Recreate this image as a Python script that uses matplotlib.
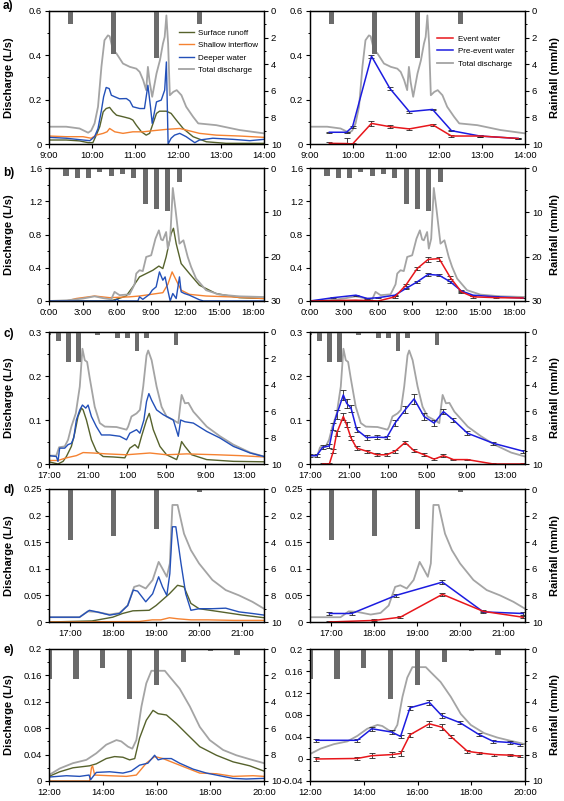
import matplotlib
matplotlib.use("Agg")
import matplotlib.pyplot as plt
from matplotlib.ticker import MultipleLocator, FuncFormatter

plt.rcParams['font.family'] = ['Liberation Sans', 'DejaVu Sans']
plt.rcParams['axes.linewidth'] = 0.9

# colours
COL_SURF = '#56622c'
COL_SHAL = '#f58231'
COL_DEEP = '#2350b8'
COL_TOT = '#a4a4a4'
COL_EV = '#e8161b'
COL_PRE = '#1c1ce0'
COL_BAR = '#6b6b6b'

# ---------------- a) ----------------
A_RAIN_T = [9.5, 10.5, 11.5, 12.5]
A_RAIN = [1.0, 3.2, 3.5, 1.0]
A_TOT_T = [9.00, 9.40, 9.71, 9.91, 9.98, 10.06, 10.14, 10.22, 10.29, 10.37, 10.41, 10.49, 10.57,
           10.72, 10.88, 11.03, 11.11, 11.19, 11.26, 11.30, 11.34, 11.40, 11.50, 11.58, 11.65,
           11.69, 11.73, 11.77, 11.81, 11.89, 11.97, 12.08, 12.19, 12.35, 12.47, 12.89, 13.43, 14.00]
A_TOT = [.078, .078, .070, .051, .060, .093, .168, .350, .468, .490, .486, .423, .408,
         .363, .348, .340, .325, .288, .243, .348, .280, .213, .318, .378, .453,
         .483, .580, .453, .220, .235, .243, .220, .168, .123, .093, .085, .063, .048]
A_SURF_T = [9.00, 9.40, 9.71, 9.91, 10.02, 10.10, 10.18, 10.26, 10.33, 10.41, 10.49, 10.57, 10.72,
            10.88, 10.95, 11.03, 11.15, 11.26, 11.34, 11.42, 11.50, 11.57, 11.73, 11.84, 11.96,
            12.12, 12.35, 12.66, 13.12, 14.00]
A_SURF = [.018, .018, .014, .006, .006, .040, .078, .145, .160, .165, .145, .130, .123,
          .115, .108, .085, .055, .040, .048, .093, .138, .148, .148, .138, .108,
          .070, .033, .010, .003, .003]
A_SHAL_T = [9.00, 9.40, 9.79, 9.98, 10.10, 10.26, 10.35, 10.41, 10.53, 10.72, 10.95, 11.19, 11.42,
            11.73, 12.04, 12.19, 12.50, 12.89, 13.43, 14.00]
A_SHAL = [.036, .033, .033, .026, .040, .048, .055, .070, .055, .048, .055, .055, .060,
          .066, .070, .063, .048, .040, .036, .030]
A_DEEP_T = [9.00, 9.40, 9.79, 9.95, 10.06, 10.14, 10.22, 10.27, 10.33, 10.40, 10.45, 10.53, 10.64,
            10.80, 10.88, 10.95, 11.11, 11.22, 11.30, 11.36, 11.40, 11.50, 11.61, 11.69, 11.73,
            11.77, 11.84, 11.92, 12.04, 12.19, 12.39, 12.50, 12.81, 13.28, 13.67, 14.00]
A_DEEP = [.030, .026, .018, .015, .033, .070, .153, .213, .255, .250, .220, .213, .204,
          .205, .194, .168, .160, .160, .265, .168, .093, .190, .198, .243, .370,
          .000, .026, .040, .048, .033, .006, .018, .026, .021, .015, .021]
A_S_T = [9.45, 9.85, 9.99, 10.43, 10.86, 11.31, 11.85, 12.29, 12.95, 13.84]
A_EV = [.003, .002, .000, .093, .078, .068, .087, .036, .036, .025]
A_EV_ERR = [.004, .025, .003, .010, .007, .005, .005, .003, .003, .003]
A_PRE = [.053, .053, .078, .396, .250, .146, .156, .060, .036, .025]
A_PRE_ERR = [.003, .003, .004, .006, .005, .004, .004, .003, .003, .003]

# ---------------- b) ----------------
B_RAIN_T = [1.5, 2.5, 3.5, 4.5, 5.5, 6.5, 7.5, 8.5, 9.5, 10.5, 11.5, 12.5]
B_RAIN = [1.9, 2.3, 2.3, 0.9, 1.7, 1.3, 2.3, 8.2, 9.2, 9.7, 3.1, 0.2]
B_TOT_T = [0.0, 1.53, 2.41, 3.00, 4.03, 4.76, 5.50, 5.79, 6.24, 7.12, 7.56, 7.71, 8.00, 8.29, 8.59,
           9.03, 9.41, 9.71, 9.91, 10.06, 10.35, 10.50, 10.71, 10.94, 11.18, 11.53, 11.88, 12.26,
           12.56, 13.00, 13.88, 15.06, 16.82, 18.97]
B_TOT = [.000, .008, .020, .030, .056, .035, .020, .110, .070, .080, .200, .330, .370, .360, .530,
         .550, .750, .850, .740, .730, .830, .630, .750, 1.360, 1.100, .690, .730, .530,
         .410, .270, .130, .077, .056, .048]
B_SURF_T = [0.0, 5.35, 5.94, 6.82, 7.41, 8.00, 8.59, 9.18, 9.71, 10.06, 10.35, 10.79, 11.00, 11.24,
            11.68, 12.41, 13.29, 14.76, 16.82, 18.97]
B_SURF = [.000, .000, .020, .060, .170, .290, .330, .370, .420, .390, .530, .810, .875, .690,
          .450, .330, .190, .090, .040, .030]
B_SHAL_T = [0.0, 1.53, 2.41, 4.03, 5.35, 7.12, 8.00, 9.03, 10.06, 10.50, 10.88, 11.24, 11.68,
            12.41, 13.88, 15.94, 18.97]
B_SHAL = [.000, .000, .030, .060, .040, .050, .060, .080, .100, .200, .350, .250, .130,
          .080, .060, .050, .030]
B_DEEP_T = [0.0, 5.79, 6.00, 6.24, 7.85, 8.00, 8.29, 8.59, 8.88, 9.12, 9.47, 9.76, 10.06, 10.26,
            10.50, 10.71, 10.94, 11.24, 11.53, 11.68, 11.97, 12.41, 13.29, 13.65, 18.97]
B_DEEP = [.000, .000, .020, .000, .000, .050, .020, .050, .080, .130, .170, .350, .250, .290,
          .130, .000, .090, .030, .290, .110, .090, .070, .015, .000, .000]
B_S_T = [0.00, 2.06, 4.06, 5.06, 6.03, 7.50, 8.47, 9.47, 10.44, 11.41, 12.41, 13.38, 14.41, 16.47, 18.82]
B_EV = [.000, .005, .010, .005, .000, .050, .190, .390, .500, .510, .280, .110, .050, .040, .036]
B_EV_ERR = [.004, .004, .005, .004, .004, .010, .015, .020, .025, .025, .020, .012, .008, .006, .005]
B_PRE = [.000, .040, .070, .030, .040, .070, .150, .230, .320, .310, .230, .120, .070, .050, .036]
B_PRE_ERR = [.004, .005, .006, .005, .004, .006, .010, .012, .015, .015, .012, .008, .006, .005, .004]

# ---------------- c) ----------------
C_RAIN_T = [17, 18, 19, 20, 22, 24, 25, 26, 27, 30]
C_RAIN = [0.25, 0.7, 2.26, 2.26, 0.2, 0.45, 0.45, 1.46, 0.45, 0.95]
C_TOT_T = [17.0, 17.75, 18.03, 18.61, 18.95, 19.29, 19.74, 20.15, 20.42, 20.66, 20.90, 21.17,
           21.68, 22.20, 22.71, 23.91, 24.93, 25.10, 25.44, 25.96, 26.30, 26.64, 26.98, 27.15,
           27.50, 28.01, 28.52, 29.03, 29.72, 30.23, 30.40, 30.57, 30.91, 31.26, 31.77, 33.14,
           34.50, 35.87, 37.58, 39.0]
C_TOT = [.019, .019, .038, .040, .055, .085, .115, .176, .262, .236, .232, .195,
         .130, .093, .085, .084, .078, .085, .108, .115, .123, .176, .247, .258,
         .236, .176, .130, .108, .100, .093, .127, .157, .138, .139, .119, .085,
         .063, .044, .026, .017]
C_DEEP_T = [17.0, 17.75, 17.92, 18.09, 18.61, 18.95, 19.29, 19.53, 19.80, 20.15, 20.42, 20.76,
            21.0, 21.34, 21.85, 22.37, 23.22, 24.25, 24.93, 25.27, 25.96, 26.30, 26.71, 26.98,
            27.22, 27.50, 28.01, 28.69, 29.72, 30.23, 30.47, 30.91, 31.77, 33.14, 34.50, 35.87,
            37.58, 39.0]
C_DEEP = [.019, .017, .006, .036, .036, .044, .047, .059, .100, .123, .134, .127,
          .134, .108, .085, .066, .066, .063, .055, .070, .078, .070, .100, .142,
          .160, .145, .123, .112, .100, .063, .100, .096, .093, .074, .059, .040,
          .025, .017]
C_SURF_T = [17.0, 17.92, 18.44, 18.78, 19.29, 19.63, 19.97, 20.32, 20.49, 20.83, 21.34, 21.85,
            22.54, 23.56, 24.76, 25.27, 25.79, 26.13, 26.47, 26.98, 27.26, 27.67, 28.35, 29.03,
            30.06, 30.30, 30.57, 30.91, 31.60, 33.14, 35.87, 39.0]
C_SURF = [.005, .000, .006, .017, .040, .070, .108, .127, .123, .100, .055, .029,
          .017, .016, .014, .036, .044, .036, .063, .100, .115, .078, .040, .021,
          .010, .025, .051, .040, .021, .010, .006, .005]
C_SHAL_T = [17.0, 17.92, 18.78, 19.80, 20.49, 21.51, 22.88, 24.93, 27.32, 29.03, 31.08, 34.16, 36.55, 39.0]
C_SHAL = [.008, .008, .014, .019, .026, .025, .023, .021, .025, .021, .023, .021, .019, .016]
C_PRE_T = [17.0, 17.68, 18.30, 18.98, 19.39, 19.73, 20.41, 20.75, 21.20, 21.78, 22.80, 23.83,
           24.85, 25.70, 26.73, 27.65, 28.67, 29.70, 30.65, 31.68, 33.11, 35.77, 38.84]
C_PRE = [.019, .019, .038, .041, .085, .112, .157, .138, .127, .078, .060, .061,
         .060, .093, .123, .148, .108, .093, .119, .100, .070, .047, .029]
C_PRE_ERR = [.004, .004, .005, .005, .008, .010, .012, .010, .008, .006, .005, .004,
             .004, .006, .008, .012, .008, .006, .006, .005, .004, .003, .003]
C_EV_T = [18.30, 18.98, 19.39, 19.73, 20.41, 20.75, 21.20, 21.78, 22.80, 23.83, 24.85, 25.70,
          26.73, 27.65, 28.67, 29.70, 30.65, 31.68, 33.11, 35.77, 38.84]
C_EV = [.000, .000, .029, .070, .108, .089, .059, .036, .029, .021, .021, .029,
        .049, .030, .021, .011, .019, .010, .010, .000, .000]
C_EV_ERR = [.003, .002, .004, .006, .008, .006, .005, .004, .003, .003, .003, .003,
            .004, .003, .003, .002, .003, .002, .002, .002, .002]

# ---------------- d) ----------------
D_RAIN_T = [17, 18, 19, 20]
D_RAIN = [3.8, 3.5, 3.0, 0.2]
D_TOT_T = [16.5, 17.21, 17.40, 17.60, 17.91, 18.14, 18.33, 18.48, 18.60, 18.75, 18.91, 19.05,
           19.14, 19.24, 19.31, 19.37, 19.49, 19.64, 19.80, 19.99, 20.30, 20.61, 20.92, 21.23, 21.5]
D_TOT = [.009, .009, .020, .019, .014, .017, .031, .066, .069, .063, .079, .113,
         .100, .085, .110, .220, .220, .166, .135, .110, .079, .060, .050, .038, .025]
D_DEEP_T = [16.5, 17.21, 17.44, 17.67, 17.91, 18.14, 18.33, 18.46, 18.56, 18.75, 18.91, 19.05,
            19.14, 19.24, 19.31, 19.37, 19.45, 19.57, 19.68, 19.80, 19.99, 20.30, 20.61, 20.92,
            21.23, 21.5]
D_DEEP = [.009, .009, .022, .018, .013, .016, .031, .060, .058, .038, .053, .085,
          .066, .050, .091, .179, .179, .110, .053, .022, .025, .025, .026, .019,
          .016, .013]
D_SURF_T = [16.5, 17.5, 17.98, 18.21, 18.45, 18.83, 18.99, 19.30, 19.49, 19.64, 19.80, 19.99, 20.50, 21.0, 21.5]
D_SURF = [.000, .002, .009, .016, .021, .022, .031, .053, .069, .066, .035, .025, .019, .013, .008]
D_SHAL_T = [16.5, 18.6, 18.9, 19.1, 19.3, 19.5, 19.8, 20.2, 20.8, 21.5]
D_SHAL = [.000, .001, .004, .004, .008, .006, .004, .004, .003, .003]
D_PRE_T = [16.95, 17.47, 18.50, 19.58, 20.53, 21.45]
D_PRE = [.016, .016, .050, .075, .019, .016]
D_PRE_ERR = [.002, .002, .003, .004, .002, .002]
D_EV_T = [16.95, 18.00, 18.60, 19.58, 20.53, 21.45]
D_EV = [.000, .003, .009, .052, .020, .009]
D_EV_ERR = [.002, .002, .002, .003, .002, .002]

# ---------------- e) ----------------
E_RAIN_T = [12, 13, 14, 15, 16, 17, 18, 19]
E_RAIN = [2.26, 2.26, 1.46, 3.77, 2.74, 1.0, 0.18, 0.45]
E_TOT_T = [12.0, 12.40, 12.89, 13.39, 13.76, 14.13, 14.51, 14.69, 14.94, 15.10, 15.25, 15.44,
           15.62, 15.81, 16.12, 16.31, 16.49, 16.86, 17.24, 17.61, 17.98, 18.48, 18.97, 19.47, 20.0]
E_TOT = [.009, .019, .027, .032, .042, .055, .062, .060, .052, .049, .062, .113,
         .148, .167, .167, .167, .158, .140, .113, .082, .062, .047, .039, .033, .027]
E_SURF_T = [12.0, 12.40, 12.89, 13.51, 13.76, 14.13, 14.44, 14.75, 15.0, 15.19, 15.37, 15.62,
            15.87, 16.06, 16.37, 16.74, 17.11, 17.61, 18.23, 18.85, 19.47, 20.0]
E_SURF = [.007, .014, .020, .023, .026, .034, .037, .036, .032, .034, .065, .092,
          .107, .102, .100, .087, .072, .052, .039, .029, .023, .015]
E_DEEP_T = [12.0, 12.65, 13.14, 13.49, 13.55, 13.70, 13.76, 14.26, 14.75, 15.06, 15.37, 15.68,
            15.93, 16.06, 16.24, 16.55, 16.86, 17.36, 17.86, 18.35, 18.85, 19.34, 20.0]
E_DEEP = [.006, .008, .007, .009, .002, .010, .013, .014, .012, .015, .024, .027,
          .039, .032, .034, .034, .027, .018, .012, .008, .004, .003, .004]
E_SHAL_T = [12.0, 13.51, 13.58, 13.62, 13.70, 14.26, 14.88, 15.25, 15.62, 15.93, 16.24, 16.86,
            17.61, 18.23, 18.85, 19.59, 20.0]
E_SHAL = [.000, .000, .020, .023, .009, .008, .007, .009, .027, .037, .034, .024,
          .012, .011, .007, .008, .007]
E_PRE_T = [12.22, 13.76, 14.30, 15.04, 15.37, 15.72, 16.44, 16.90, 17.58, 18.27, 18.82, 19.44, 19.82]
E_PRE = [.034, .034, .055, .049, .041, .093, .103, .079, .066, .045, .032, .030, .026]
E_PRE_ERR = [.003, .003, .004, .004, .003, .004, .005, .004, .003, .003, .002, .002, .002]
E_EV_T = [12.22, 13.76, 14.30, 15.04, 15.37, 15.72, 16.44, 16.90, 17.24, 17.86, 18.30, 18.86, 19.44, 19.82]
E_EV = [.000, .001, .006, .008, .010, .044, .064, .058, .041, .014, .011, .008, .007, .005]
E_EV_ERR = [.003, .003, .005, .005, .004, .004, .006, .005, .003, .003, .002, .002, .002, .002]


W, H = 564.0, 801.0
fig = plt.figure(figsize=(W / 100, H / 100), dpi=100)

ROWS = [(11, 144), (168, 301), (332, 464), (489, 622), (649, 781)]
LEFT_X, RIGHT_X, AX_W = 49, 310, 215


def hhmm(h):
    return '%d:00' % (int(round(h)) % 24)


def num(v, pos):
    return '%g' % (round(v, 6) + 0.0)


def make_ax(x0, row):
    top, bot = ROWS[row]
    return fig.add_axes([x0 / W, 1 - bot / H, AX_W / W, (bot - top) / H])


def setup(ax, xlim, xticks, ylim, ystep, rain_t, rain, bar_w, rmax, rstep, right):
    ax.set_xlim(xlim)
    ax.set_ylim(ylim)
    ax.set_xticks(xticks)
    ax.set_xticklabels([hhmm(h) for h in xticks])
    ax.yaxis.set_major_locator(MultipleLocator(ystep))
    ax.yaxis.set_minor_locator(MultipleLocator(ystep / 2))
    ax.yaxis.set_major_formatter(FuncFormatter(num))
    ax.tick_params(which='major', length=3, width=0.8, labelsize=6.8, pad=2)
    ax.tick_params(which='minor', length=1.6, width=0.7)
    ax2 = ax.twinx()
    ax2.bar(rain_t, rain, width=bar_w, color=COL_BAR, linewidth=0)
    ax2.set_ylim(rmax, 0)
    ax2.yaxis.set_major_locator(MultipleLocator(rstep))
    ax2.yaxis.set_minor_locator(MultipleLocator(rstep / 2))
    ax2.yaxis.set_major_formatter(FuncFormatter(num))
    ax2.tick_params(which='major', length=3, width=0.8, labelsize=6.8, pad=2)
    ax2.tick_params(which='minor', length=1.6, width=0.7)
    if right:
        ax2.set_ylabel('Rainfall (mm/h)', fontsize=8, fontweight='bold', rotation=90)
        ax2.yaxis.set_label_coords(1.115, 0.5)
    else:
        ax.set_ylabel('Discharge (L/s)', fontsize=8, fontweight='bold')
        ax.yaxis.set_label_coords(-0.165, 0.5)
    return ax2


def left_lines(ax, surf, shal, deep, tot):
    h1, = ax.plot(surf[0], surf[1], color=COL_SURF, lw=1.0)
    h2, = ax.plot(shal[0], shal[1], color=COL_SHAL, lw=1.0)
    h4, = ax.plot(tot[0], tot[1], color=COL_TOT, lw=1.3)
    h3, = ax.plot(deep[0], deep[1], color=COL_DEEP, lw=1.0)
    return [h1, h2, h3, h4], ['Surface runoff', 'Shallow interflow', 'Deeper water', 'Total discharge']


def right_lines(ax, ev, pre, tot):
    h3, = ax.plot(tot[0], tot[1], color=COL_TOT, lw=1.3)
    eb_style = dict(ecolor='#222222', elinewidth=0.6, capsize=2.3, capthick=0.6, lw=1.1)
    h2 = ax.errorbar(pre[0], pre[1], yerr=pre[2], color=COL_PRE, **eb_style)
    h1 = ax.errorbar(ev[0], ev[1], yerr=ev[2], color=COL_EV, **eb_style)
    return [h1[0], h2[0], h3], ['Event water', 'Pre-event water', 'Total discharge']


panels = [
    dict(xlim=(9, 14), xt=[9, 10, 11, 12, 13, 14], ylim=(0, 0.6), ys=0.2,
         rain=(A_RAIN_T, A_RAIN), bw=0.13, rmax=10, rs=2,
         surf=(A_SURF_T, A_SURF), shal=(A_SHAL_T, A_SHAL), deep=(A_DEEP_T, A_DEEP),
         tot=(A_TOT_T, A_TOT),
         ev=(A_S_T, A_EV, A_EV_ERR), pre=(A_S_T, A_PRE, A_PRE_ERR), rylim=(0, 0.6)),
    dict(xlim=(0, 19), xt=[0, 3, 6, 9, 12, 15, 18], ylim=(0, 1.6), ys=0.4,
         rain=(B_RAIN_T, B_RAIN), bw=0.45, rmax=30, rs=10,
         surf=(B_SURF_T, B_SURF), shal=(B_SHAL_T, B_SHAL), deep=(B_DEEP_T, B_DEEP),
         tot=(B_TOT_T, B_TOT),
         ev=(B_S_T, B_EV, B_EV_ERR), pre=(B_S_T, B_PRE, B_PRE_ERR), rylim=(0, 1.6)),
    dict(xlim=(17, 39), xt=[17, 21, 25, 29, 33, 37], ylim=(0, 0.3), ys=0.1,
         rain=(C_RAIN_T, C_RAIN), bw=0.5, rmax=10, rs=2,
         surf=(C_SURF_T, C_SURF), shal=(C_SHAL_T, C_SHAL), deep=(C_DEEP_T, C_DEEP),
         tot=(C_TOT_T, C_TOT),
         ev=(C_EV_T, C_EV, C_EV_ERR), pre=(C_PRE_T, C_PRE, C_PRE_ERR), rylim=(0, 0.3)),
    dict(xlim=(16.5, 21.5), xt=[17, 18, 19, 20, 21], ylim=(0, 0.25), ys=0.05,
         rain=(D_RAIN_T, D_RAIN), bw=0.13, rmax=10, rs=2,
         surf=(D_SURF_T, D_SURF), shal=(D_SHAL_T, D_SHAL), deep=(D_DEEP_T, D_DEEP),
         tot=(D_TOT_T, D_TOT),
         ev=(D_EV_T, D_EV, D_EV_ERR), pre=(D_PRE_T, D_PRE, D_PRE_ERR), rylim=(0, 0.25)),
    dict(xlim=(12, 20), xt=[12, 14, 16, 18, 20], ylim=(0, 0.2), ys=0.04,
         rain=(E_RAIN_T, E_RAIN), bw=0.2, rmax=10, rs=2,
         surf=(E_SURF_T, E_SURF), shal=(E_SHAL_T, E_SHAL), deep=(E_DEEP_T, E_DEEP),
         tot=(E_TOT_T, E_TOT),
         ev=(E_EV_T, E_EV, E_EV_ERR), pre=(E_PRE_T, E_PRE, E_PRE_ERR), rylim=(-0.04, 0.2)),
]

letters = ['a)', 'b)', 'c)', 'd)', 'e)']
letter_y = [6, 173, 334, 490, 650]

for i, p in enumerate(panels):
    # left: hydrograph separation by flow path
    axl = make_ax(LEFT_X, i)
    hl, ll = left_lines(axl, p['surf'], p['shal'], p['deep'], p['tot'])
    axl2 = setup(axl, p['xlim'], p['xt'], p['ylim'], p['ys'], p['rain'][0], p['rain'][1],
                 p['bw'], p['rmax'], p['rs'], False)
    # right: event / pre-event separation
    axr = make_ax(RIGHT_X, i)
    hr, lr = right_lines(axr, p['ev'], p['pre'], p['tot'])
    axr2 = setup(axr, p['xlim'], p['xt'], p['rylim'], p['ys'], p['rain'][0], p['rain'][1],
                 p['bw'], p['rmax'], p['rs'], True)
    if i == 0:
        axl2.legend(hl, ll, loc='upper left', bbox_to_anchor=(0.605, 0.865), frameon=False,
                    fontsize=5.8, handlelength=1.9, handletextpad=0.45, labelspacing=0.6,
                    borderpad=0, borderaxespad=0)
        axr2.legend(hr, lr, loc='upper left', bbox_to_anchor=(0.59, 0.82), frameon=False,
                    fontsize=5.8, handlelength=2.0, handletextpad=0.6, labelspacing=0.6,
                    borderpad=0, borderaxespad=0)
    fig.text(3 / W, 1 - letter_y[i] / H, letters[i], fontsize=8.5, fontweight='bold',
             ha='left', va='center')

fig.savefig('out.png', dpi=100)
